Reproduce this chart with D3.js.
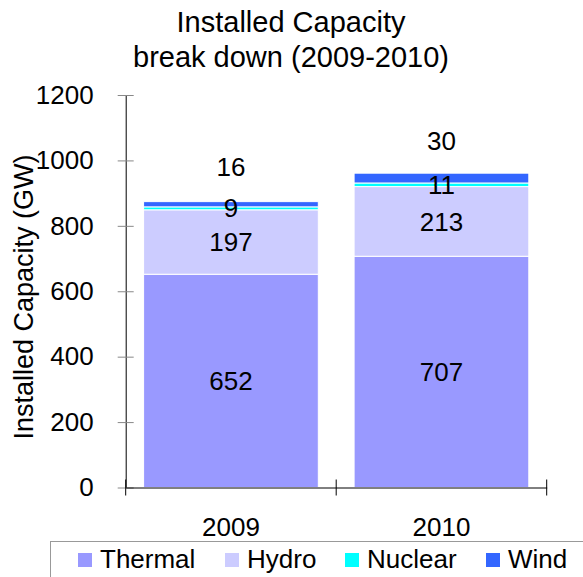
<!DOCTYPE html>
<html>
<head>
<meta charset="utf-8">
<script src="https://cdn.jsdelivr.net/npm/d3@7"></script>
<style>
  body { margin: 0; background: #fff; }
  svg text { font-family: "Liberation Sans", Arial, sans-serif; fill: #000; }
</style>
</head>
<body>
<script>
// Chart data
const years = ["2009", "2010"];
const seriesNames = ["Thermal", "Hydro", "Nuclear", "Wind"];
const thermal = [652, 707];
const hydro = [197, 213];
const nuclear = [9, 11];
const wind = [16, 30];
const yTicks = [0, 200, 400, 600, 800, 1000, 1200];
const colors = ["#9999ff", "#ccccff", "#00ffff", "#3366ff"];

const width = 583, height = 577;
const plotLeft = 125.7, plotRight = 546.7, plotTop = 95, plotBottom = 487.5;
const fontFam = "'Liberation Sans', Arial, sans-serif";

// build rows for the stack
const rows = years.map((y, i) => ({
  year: y, Thermal: thermal[i], Hydro: hydro[i], Nuclear: nuclear[i], Wind: wind[i]
}));
const stacked = d3.stack().keys(seriesNames)(rows);

const svg = d3.select("body").append("svg")
  .attr("width", width)
  .attr("height", height)
  .style("font-family", fontFam);

const x = d3.scaleBand().domain(years).range([plotLeft, plotRight]).padding(0);
const y = d3.scaleLinear().domain([0, 1200]).range([plotBottom, plotTop]);
const barW = x.bandwidth() * 0.83;
const color = d3.scaleOrdinal().domain(seriesNames).range(colors);

// Title
svg.append("text")
  .attr("x", 291).attr("y", 32)
  .attr("text-anchor", "middle")
  .style("font-size", "29px")
  .text("Installed Capacity");
svg.append("text")
  .attr("x", 291).attr("y", 67)
  .attr("text-anchor", "middle")
  .style("font-size", "29px")
  .text("break down (2009-2010)");

// Bars
const layer = svg.append("g").selectAll("g")
  .data(stacked)
  .join("g")
  .attr("fill", d => color(d.key));

layer.selectAll("rect")
  .data(d => d)
  .join("rect")
  .attr("x", d => x(d.data.year) + (x.bandwidth() - barW) / 2)
  .attr("y", d => y(d[1]))
  .attr("width", barW)
  .attr("height", d => y(d[0]) - y(d[1]))
  .attr("stroke", "#fff")
  .attr("stroke-width", 1);

// Y axis
const yAxis = svg.append("g")
  .attr("transform", `translate(${plotLeft},0)`)
  .call(d3.axisLeft(y).tickValues(yTicks).tickFormat(d3.format("d")).tickSize(0).tickPadding(32));
yAxis.attr("font-family", null).attr("font-size", null);
yAxis.select(".domain").attr("stroke", "#000");
yAxis.selectAll("text").style("font-size", "26px");
yAxis.selectAll(".tick").append("line")
  .attr("x1", -8).attr("x2", 8)
  .attr("stroke", "#888");

// X axis
const xAxis = svg.append("g")
  .attr("transform", `translate(0,${plotBottom})`)
  .call(d3.axisBottom(x).tickSize(0).tickPadding(30));
xAxis.attr("font-family", null).attr("font-size", null);
xAxis.select(".domain").attr("stroke", "#000");
xAxis.selectAll("text").style("font-size", "26px");
const bounds = years.map(d => x(d)).concat([x(years[years.length - 1]) + x.bandwidth()]);
xAxis.selectAll(".sep")
  .data(bounds)
  .join("line")
  .attr("class", "sep")
  .attr("x1", d => d).attr("x2", d => d)
  .attr("y1", -8).attr("y2", 8)
  .attr("stroke", "#000");

// Y axis title
svg.append("text")
  .attr("transform", "translate(33,297) rotate(-90)")
  .attr("text-anchor", "middle")
  .style("font-size", "27px")
  .text("Installed Capacity (GW)");

// Data labels on top of all bars (wind labels sit above the bar)
const labels = stacked.flatMap(s => s.map(p => ({ p, key: s.key })));
svg.append("g").selectAll("text")
  .data(labels)
  .join("text")
  .attr("x", d => x(d.p.data.year) + x.bandwidth() / 2)
  .attr("y", d => y((d.p[0] + d.p[1]) / 2) + (d.key === "Wind" ? -37 : 0))
  .attr("dy", "0.35em")
  .attr("text-anchor", "middle")
  .style("font-size", "26px")
  .text(d => d.p[1] - d.p[0]);

// Legend
const legend = svg.append("g");
legend.append("rect")
  .attr("x", 50.5).attr("y", 541.5)
  .attr("width", 560).attr("height", 60)
  .attr("fill", "none")
  .attr("stroke", "#999");
const legendX = [78, 225, 345, 486];
const item = legend.selectAll(".item")
  .data(seriesNames)
  .join("g")
  .attr("class", "item")
  .attr("transform", (d, i) => `translate(${legendX[i]},553)`);
item.append("rect")
  .attr("width", 14).attr("height", 14)
  .attr("fill", d => color(d));
item.append("text")
  .attr("x", 22).attr("y", 15)
  .style("font-size", "26px")
  .text(d => d);
</script>
</body>
</html>
